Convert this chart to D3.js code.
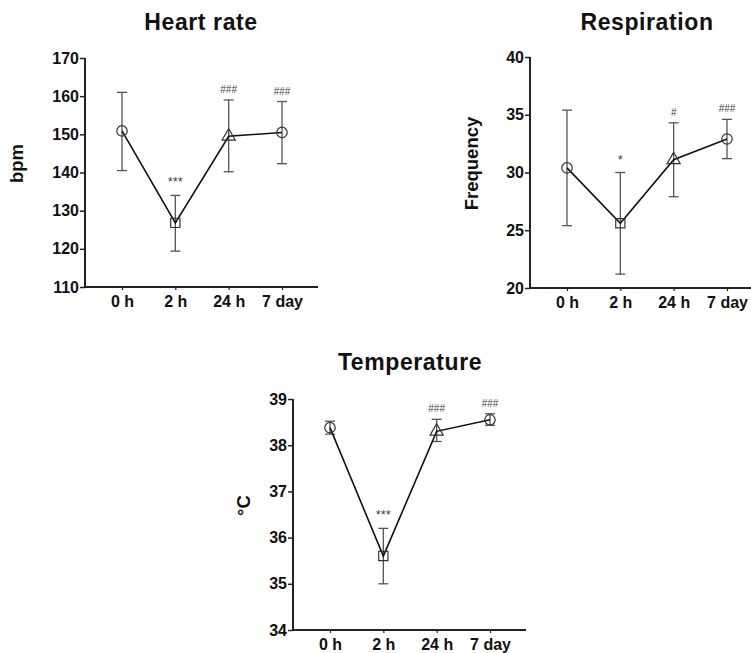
<!DOCTYPE html>
<html>
<head>
<meta charset="utf-8">
<script src="https://cdn.jsdelivr.net/npm/d3@7"></script>
<style>
  body { margin: 0; background: #fff; }
  svg { display: block; font-family: "Liberation Sans", Arial, sans-serif; }
</style>
</head>
<body>
<svg id="chart" width="751" height="653"></svg>
<script>
var categories = ['0 h', '2 h', '24 h', '7 day'],
    markers = ['circle', 'square', 'triangle', 'circle'];

// heart rate (bpm)
var heartMean = [150.9, 126.8, 149.5, 150.5],
    heartLow = [140.5, 119.4, 140.2, 142.3],
    heartHigh = [161, 134, 159, 158.6],
    heartMarks = ['', '***', '###', '###'],
    heartTicks = [110, 120, 130, 140, 150, 160, 170];

// respiration (frequency)
var respMean = [30.4, 25.6, 31.1, 32.9],
    respLow = [25.4, 21.2, 27.9, 31.2],
    respHigh = [35.4, 30, 34.3, 34.6],
    respMarks = ['', '*', '#', '###'],
    respTicks = [20, 25, 30, 35, 40];

// temperature (°C)
var tempMean = [38.38, 35.6, 38.3, 38.55],
    tempLow = [38.24, 35.0, 38.08, 38.43],
    tempHigh = [38.52, 36.2, 38.56, 38.68],
    tempMarks = ['', '***', '###', '###'],
    tempTicks = [34, 35, 36, 37, 38, 39];

var svg = d3.select('#chart');

function drawPanel(p) {
    var y = d3.scaleLinear()
        .domain(d3.extent(p.ticks))
        .range([p.bottom, p.top]);

    var x = d3.scalePoint()
        .domain(categories)
        .range([p.left + 37, p.left + 197]);

    var g = svg.append('g');

    // title
    g.append('text')
        .attr('x', p.titleX)
        .attr('y', p.titleY)
        .attr('text-anchor', 'middle')
        .style('font-size', '23px')
        .style('letter-spacing', '0.6px')
        .style('font-weight', 'bold')
        .attr('fill', '#111')
        .text(p.title);

    // y label, sits a bit above the middle of the axis
    g.append('text')
        .attr('transform', 'translate(' + p.labelX + ',' + ((p.top + p.bottom) / 2 - 9) + ') rotate(-90)')
        .attr('text-anchor', 'middle')
        .style('font-size', '18.5px')
        .style('font-weight', 'bold')
        .attr('fill', '#111')
        .text(p.ylabel);

    // y axis
    var yAxis = g.append('g')
        .attr('transform', 'translate(' + p.left + ',0)')
        .call(d3.axisLeft(y).tickValues(p.ticks).tickSize(5).tickPadding(1).tickFormat(d3.format('d')));
    yAxis.select('.domain').attr('stroke', '#222').attr('stroke-width', 2).attr('d', 'M0,' + p.bottom + 'V' + p.top);
    yAxis.selectAll('.tick line').attr('stroke', '#222').attr('stroke-width', 1.5);
    yAxis.selectAll('.tick text')
        .style('font-size', '16px')
        .style('font-weight', 'bold')
        .attr('fill', '#111');

    // x axis
    var xAxis = g.append('g')
        .attr('transform', 'translate(0,' + p.bottom + ')')
        .call(d3.axisBottom(x).tickSize(3).tickPadding(6));
    xAxis.select('.domain').attr('stroke', '#222').attr('stroke-width', 2)
        .attr('d', 'M' + p.left + ',0H' + (p.left + 233));
    xAxis.selectAll('.tick line').attr('stroke', '#222').attr('stroke-width', 1.2);
    xAxis.selectAll('.tick text')
        .style('font-size', '16px')
        .style('font-weight', 'bold')
        .attr('fill', '#111');

    var rows = categories.map(function (c, i) {
        return { cat: c, mean: p.mean[i], low: p.low[i], high: p.high[i], mark: p.marks[i], shape: markers[i] };
    });

    // error bars
    var eb = g.append('g').attr('stroke', '#555').attr('stroke-width', 1.3).attr('fill', 'none');
    rows.forEach(function (d) {
        var cx = x(d.cat);
        eb.append('line').attr('x1', cx).attr('x2', cx).attr('y1', y(d.low)).attr('y2', y(d.high));
        eb.append('line').attr('x1', cx - 5).attr('x2', cx + 5).attr('y1', y(d.low)).attr('y2', y(d.low));
        eb.append('line').attr('x1', cx - 5).attr('x2', cx + 5).attr('y1', y(d.high)).attr('y2', y(d.high));
    });

    // line
    g.append('path')
        .datum(rows)
        .attr('fill', 'none')
        .attr('stroke', '#111')
        .attr('stroke-width', 1.6)
        .attr('d', d3.line().x(function (d) { return x(d.cat); }).y(function (d) { return y(d.mean); }));

    // markers
    var symbols = { circle: d3.symbolCircle, square: d3.symbolSquare, triangle: d3.symbolTriangle };
    g.selectAll('.pt')
        .data(rows)
        .enter().append('path')
        .attr('class', 'pt')
        .attr('transform', function (d) { return 'translate(' + x(d.cat) + ',' + y(d.mean) + ')'; })
        .attr('d', function (d) { return d3.symbol().type(symbols[d.shape]).size(d.shape === 'triangle' ? 75 : 85)(); })
        .attr('fill', 'none')
        .attr('stroke', '#333')
        .attr('stroke-width', 1.2);

    // significance marks
    g.selectAll('.sig')
        .data(rows.filter(function (d) { return d.mark; }))
        .enter().append('text')
        .attr('class', 'sig')
        .attr('x', function (d) { return x(d.cat); })
        .attr('y', function (d) { return y(d.high) - (d.mark.charAt(0) === '*' ? 9 : 7); })
        .attr('text-anchor', 'middle')
        .style('font-size', function (d) { return d.mark.charAt(0) === '*' ? '13px' : '10px'; })
        .attr('fill', '#444')
        .text(function (d) { return d.mark; });
}

drawPanel({
    title: 'Heart rate', ylabel: 'bpm', titleX: 201, titleY: 30, labelX: 23,
    left: 85, top: 58, bottom: 287,
    ticks: heartTicks, mean: heartMean, low: heartLow, high: heartHigh, marks: heartMarks
});

drawPanel({
    title: 'Respiration', ylabel: 'Frequency', titleX: 647, titleY: 30, labelX: 478,
    left: 530, top: 57, bottom: 288,
    ticks: respTicks, mean: respMean, low: respLow, high: respHigh, marks: respMarks
});

drawPanel({
    title: 'Temperature', ylabel: '°C', titleX: 410, titleY: 370, labelX: 250,
    left: 293, top: 399, bottom: 630,
    ticks: tempTicks, mean: tempMean, low: tempLow, high: tempHigh, marks: tempMarks
});
</script>
</body>
</html>
